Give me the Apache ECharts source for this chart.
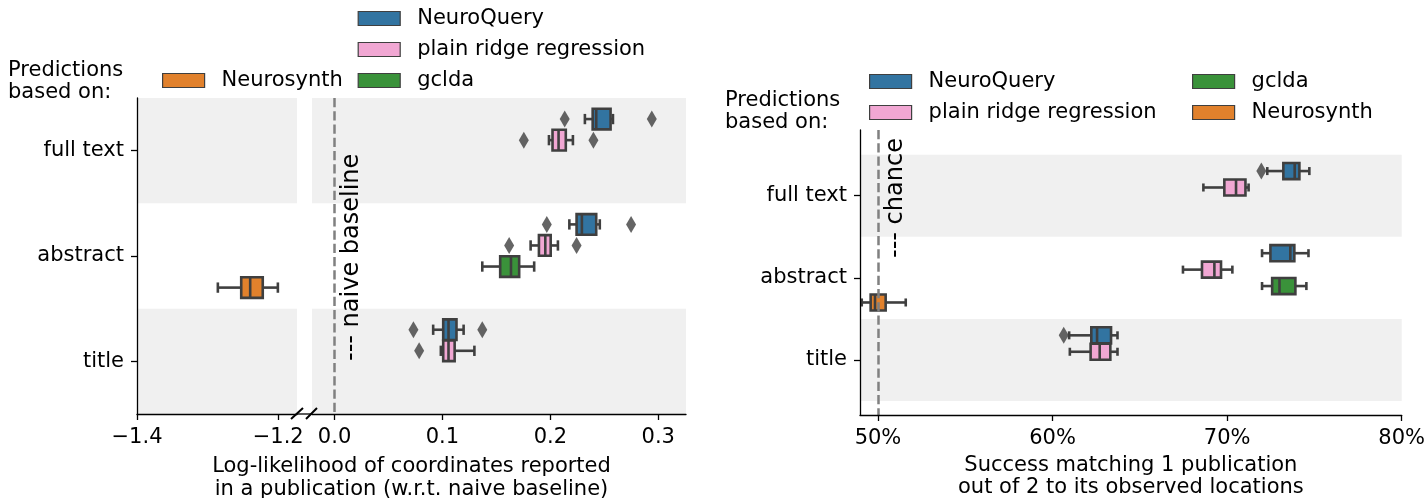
<!DOCTYPE html>
<html><head><meta charset="utf-8">
<script src="https://cdn.jsdelivr.net/npm/echarts@6/dist/echarts.min.js"></script>
<style>html,body{margin:0;padding:0;background:#fff}#c{width:1424px;height:498px}</style>
</head><body><div id="c"></div><script>
// ---------- data ----------
const categories = ['full text', 'abstract', 'title'];
const methods = ['NeuroQuery', 'plain ridge regression', 'gclda', 'Neurosynth'];
const methodColors = ['#3274a1', '#f1a7d3', '#3a923a', '#e1812c'];
const shadedCategories = [0, 2];

// Left panel: log-likelihood, per category [low whisker, Q1, median, Q3, high whisker]; null = not shown
const llNeuroQuery = [[0.232, 0.2392, 0.2425, 0.2558, 0.258], [0.2176, 0.2243, 0.2292, 0.2425, 0.2458], [0.0914, 0.1007, 0.1056, 0.113, 0.1196]];
const llRidge = [[0.1987, 0.202, 0.2076, 0.2143, 0.2209], [0.1817, 0.1894, 0.1953, 0.2003, 0.207], [0.0985, 0.1007, 0.1056, 0.1113, 0.1296]];
const llGclda = [null, [0.1369, 0.1535, 0.1635, 0.1711, 0.185], null];
const llNeurosynth = [null, [-1.2855, -1.2524, -1.2397, -1.2219, -1.2005], null];
const llNeuroQueryOutliers = [[0.2133, 0.294], [0.1967, 0.2748], [0.0731, 0.1369]];
const llRidgeOutliers = [[0.1754, 0.2399], [0.1618, 0.2243], [0.0784]];
const llBaseline = 0;
const llTicksLow = [-1.4, -1.2];
const llTicksHigh = [0.0, 0.1, 0.2, 0.3];

// Right panel: matching success (%)
const accNeuroQuery = [[72.3, 73.22, 73.87, 74.14, 74.71], [72.0, 72.48, 73.62, 73.85, 74.66], [60.95, 62.22, 62.55, 63.35, 63.72]];
const accRidge = [[68.64, 69.84, 70.51, 71.05, 71.23], [67.47, 68.56, 69.27, 69.65, 70.3], [60.99, 62.18, 62.70, 63.31, 63.72]];
const accGclda = [null, [72.0, 72.58, 73.0, 73.91, 74.54], null];
const accNeurosynth = [null, [49.07, 49.58, 49.83, 50.44, 51.59], null];
const accNeuroQueryOutliers = [[71.96], [], [60.64]];
const accChance = 50;
const accTicks = [50, 60, 70, 80];

// ---------- helpers ----------
const FONT = 'DejaVu Sans';
const EDGE = '#3f3f3f';
const LW = 2.6;
const BOX_FRAC = 0.2 * 0.98;
const hueOffset = h => -0.3 + 0.2 * h;

function boxData(stats) {
  const d = [];
  stats.forEach((s, i) => { if (s) d.push([i].concat(s)); });
  return d;
}
function makeRender(hue) {
  return function (params, api) {
    const yc = api.value(0) + hueOffset(hue);
    const pLo = api.coord([api.value(1), yc]);
    const pQ1 = api.coord([api.value(2), yc]);
    const pMed = api.coord([api.value(3), yc]);
    const pQ3 = api.coord([api.value(4), yc]);
    const pHi = api.coord([api.value(5), yc]);
    const h = api.size([0, BOX_FRAC])[1];
    const cy = pMed[1];
    const ls = { stroke: EDGE, lineWidth: LW };
    return {
      type: 'group', children: [
        { type: 'line', shape: { x1: pLo[0], y1: cy, x2: pQ1[0], y2: cy }, style: ls },
        { type: 'line', shape: { x1: pQ3[0], y1: cy, x2: pHi[0], y2: cy }, style: ls },
        { type: 'line', shape: { x1: pLo[0], y1: cy - h / 4, x2: pLo[0], y2: cy + h / 4 }, style: ls },
        { type: 'line', shape: { x1: pHi[0], y1: cy - h / 4, x2: pHi[0], y2: cy + h / 4 }, style: ls },
        { type: 'rect', shape: { x: pQ1[0], y: cy - h / 2, width: pQ3[0] - pQ1[0], height: h },
          style: { fill: api.visual('color'), stroke: EDGE, lineWidth: LW } },
        { type: 'line', shape: { x1: pMed[0], y1: cy - h / 2, x2: pMed[0], y2: cy + h / 2 }, style: ls }
      ]
    };
  };
}
function boxSeries(hue, stats, axis) {
  return {
    type: 'custom', name: methods[hue], xAxisIndex: axis, yAxisIndex: axis, z: 3,
    itemStyle: { color: methodColors[hue] },
    data: boxData(stats), encode: { x: [1, 2, 3, 4, 5], y: 0 },
    renderItem: makeRender(hue)
  };
}
function outlierSeries(hue, outs, axis) {
  const d = [];
  outs.forEach((arr, i) => arr.forEach(v => d.push([v, i + hueOffset(hue)])));
  return {
    type: 'scatter', name: methods[hue], xAxisIndex: axis, yAxisIndex: axis, z: 4,
    symbol: 'diamond', symbolSize: [10, 17], itemStyle: { color: EDGE }, silent: true, data: d
  };
}
function backgroundSeries(axis, refValue) {
  return {
    type: 'line', xAxisIndex: axis, yAxisIndex: axis, data: [], z: 1, silent: true,
    markArea: { silent: true, itemStyle: { color: '#f0f0f0' },
      data: shadedCategories.map(i => [{ yAxis: i - 0.5 }, { yAxis: i + 0.5 }]) },
    markLine: refValue === null ? undefined : {
      silent: true, symbol: ['none', 'none'], label: { show: false },
      lineStyle: { color: '#808080', width: 2.5, type: [9.25, 4] },
      data: [{ xAxis: refValue }]
    }
  };
}
const minus = v => (v < 0 ? '\u2212' + (-v).toFixed(1) : v.toFixed(1));
function xAxisDef(grid, min, max, ticks, fmt, extra) {
  return Object.assign({
    gridIndex: grid, type: 'value', min: min, max: max, z: 10, position: 'bottom',
    axisLine: { show: true, onZero: false, lineStyle: { color: '#000', width: 1.3 } },
    axisTick: { show: true, customValues: ticks, length: 6, lineStyle: { color: '#000', width: 1.3 } },
    axisLabel: { customValues: ticks, formatter: fmt, fontSize: 21, fontFamily: FONT, color: '#000', margin: 13 },
    splitLine: { show: false }
  }, extra || {});
}
function yAxisDef(grid, min, max, show) {
  return {
    gridIndex: grid, type: 'value', inverse: true, min: min, max: max, show: show, z: 10, position: 'left',
    axisLine: { show: true, onZero: false, lineStyle: { color: '#000', width: 1.3 } },
    axisTick: { show: true, customValues: [0, 1, 2], length: 6, lineStyle: { color: '#000', width: 1.3 } },
    axisLabel: { customValues: [0, 1, 2], formatter: v => categories[v], fontSize: 21, fontFamily: FONT, color: '#000', margin: 13 },
    splitLine: { show: false }
  };
}
function legendItem(hue) {
  return { name: methods[hue], itemStyle: { color: methodColors[hue], borderColor: EDGE, borderWidth: 1.2 } };
}
function legendDef(hues, left, top, gap) {
  return {
    data: hues.map(legendItem), left: left, top: top, orient: 'vertical', padding: 0,
    itemWidth: 42, itemHeight: 14, itemGap: gap, icon: 'rect', selectedMode: false,
    textStyle: { fontSize: 21, fontFamily: FONT, color: '#000', lineHeight: 21, padding: [0, 0, 0, 12] }
  };
}
const txt = (x, y, text, extra) => Object.assign({
  type: 'text', x: x, y: y, z: 50,
  style: Object.assign({ text: text, fontSize: 21, fontFamily: FONT, fill: '#000', lineHeight: 22, textAlign: 'left', textVerticalAlign: 'middle' }, extra || {})
});

const chart = echarts.init(document.getElementById('c'), null, { renderer: 'canvas' });
chart.setOption({
  animation: false,
  backgroundColor: '#fff',
  textStyle: { fontFamily: FONT },
  grid: [
    { left: 137, top: 98, width: 160, height: 316, containLabel: false, outerBoundsMode: 'none' },
    { left: 312, top: 98, width: 374, height: 316, containLabel: false, outerBoundsMode: 'none' },
    { left: 860, top: 130, width: 541.7, height: 285, containLabel: false, outerBoundsMode: 'none' }
  ],
  xAxis: [
    xAxisDef(0, -1.4, -1.1734, llTicksLow, minus),
    xAxisDef(1, -0.0209, 0.3257, llTicksHigh, minus),
    xAxisDef(2, 48.97, 80, accTicks, v => v + '%', {
      name: 'Success matching 1 publication\nout of 2 to its observed locations',
      nameLocation: 'middle', nameGap: 40,
      nameTextStyle: { fontSize: 21, fontFamily: FONT, color: '#000', lineHeight: 22, verticalAlign: 'top' }
    })
  ],
  yAxis: [
    yAxisDef(0, -0.5, 2.5, true),
    yAxisDef(1, -0.5, 2.5, false),
    yAxisDef(2, -0.8, 2.67, true)
  ],
  legend: [
    legendDef([3], 162, 70, 10),
    legendDef([0, 1, 2], 357.6, 8, 10),
    legendDef([0, 1], 869, 71, 10),
    legendDef([2, 3], 1192, 71, 10)
  ],
  series: [
    backgroundSeries(0, null),
    backgroundSeries(1, llBaseline),
    backgroundSeries(2, accChance),
    boxSeries(3, llNeurosynth, 0),
    boxSeries(0, llNeuroQuery, 1),
    boxSeries(1, llRidge, 1),
    boxSeries(2, llGclda, 1),
    outlierSeries(0, llNeuroQueryOutliers, 1),
    outlierSeries(1, llRidgeOutliers, 1),
    boxSeries(0, accNeuroQuery, 2),
    boxSeries(1, accRidge, 2),
    boxSeries(2, accGclda, 2),
    boxSeries(3, accNeurosynth, 2),
    outlierSeries(0, accNeuroQueryOutliers, 2)
  ],
  graphic: [
    txt(8, 82, 'Predictions\nbased on:'),
    txt(725, 112, 'Predictions\nbased on:'),
    Object.assign(txt(352, 361, '--- naive baseline', { fontSize: 24 }), { rotation: Math.PI / 2 }),
    Object.assign(txt(896, 258, '--- chance', { fontSize: 24 }), { rotation: Math.PI / 2 }),
    txt(411.5, 455, 'Log-likelihood of coordinates reported\nin a publication (w.r.t. naive baseline)', { textAlign: 'center', textVerticalAlign: 'top', lineHeight: 23 }),
    { type: 'line', z: 50, shape: { x1: 297, y1: 414, x2: 312, y2: 414 }, style: { stroke: '#000', lineWidth: 1.3 } },
    { type: 'line', z: 50, shape: { x1: 291, y1: 419, x2: 303, y2: 408 }, style: { stroke: '#000', lineWidth: 2 } },
    { type: 'line', z: 50, shape: { x1: 306, y1: 419, x2: 317, y2: 408 }, style: { stroke: '#000', lineWidth: 2 } }
  ]
});
</script></body></html>
